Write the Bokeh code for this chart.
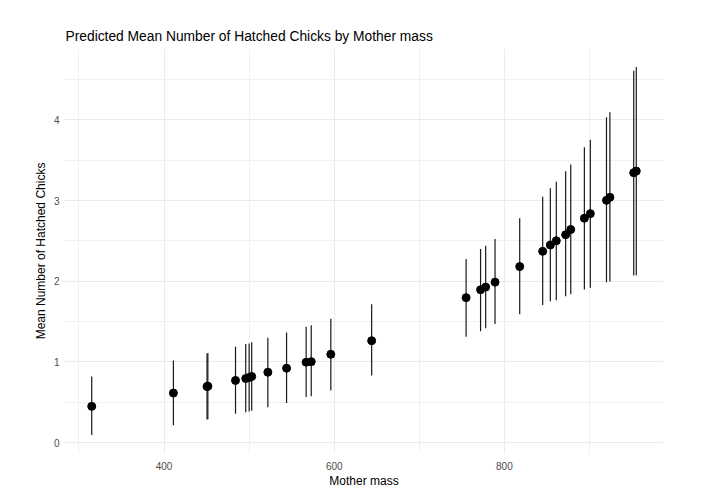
from bokeh.plotting import figure
from bokeh.models import ColumnDataSource, FixedTicker, Range1d
from bokeh.embed import file_html
from bokeh.resources import INLINE

# Data
mother_mass = [315, 411, 450.5, 451.5, 484, 496, 500, 503, 522, 544, 567, 573,
               596, 644, 755, 772, 778, 789, 818, 845, 854, 861, 872, 878,
               894, 901, 920, 924, 952, 955]
mean_chicks = [0.45, 0.615, 0.695, 0.70, 0.771, 0.795, 0.808, 0.82, 0.873, 0.923, 0.997, 1.004,
               1.095, 1.263, 1.797, 1.895, 1.928, 1.989, 2.182, 2.371, 2.449, 2.502, 2.576, 2.641,
               2.781, 2.838, 3.003, 3.04, 3.345, 3.365]
lower_ci = [0.094, 0.217, 0.287, 0.29, 0.357, 0.377, 0.385, 0.397, 0.438, 0.492, 0.566, 0.574,
            0.648, 0.832, 1.312, 1.382, 1.419, 1.472, 1.591, 1.706, 1.751, 1.764, 1.813, 1.838,
            1.899, 1.92, 1.989, 1.998, 2.07, 2.075]
upper_ci = [0.82, 1.017, 1.105, 1.11, 1.189, 1.222, 1.23, 1.243, 1.30, 1.366, 1.435, 1.456,
            1.534, 1.714, 2.277, 2.40, 2.44, 2.523, 2.781, 3.048, 3.154, 3.232, 3.364, 3.446,
            3.659, 3.754, 4.032, 4.094, 4.607, 4.656]

x_major = [400, 600, 800]
x_minor = [300, 500, 700, 900]
y_major = [0, 1, 2, 3, 4]
y_minor = [0.5, 1.5, 2.5, 3.5, 4.5]

src = ColumnDataSource(dict(x=mother_mass, y=mean_chicks, lo=lower_ci, hi=upper_ci))

xmin, xmax = min(mother_mass), max(mother_mass)
ymin, ymax = min(lower_ci), max(upper_ci)
xe = 0.05 * (xmax - xmin)
ye = 0.05 * (ymax - ymin)

FONT = "Liberation Sans"

p = figure(width=699, height=490, output_backend="svg", toolbar_location=None,
           x_range=Range1d(xmin - xe, xmax + xe), y_range=Range1d(ymin - ye, ymax + ye),
           title="Predicted Mean Number of Hatched Chicks by Mother mass",
           x_axis_label="Mother mass", y_axis_label="Mean Number of Hatched Chicks",
           min_border_left=64, min_border_right=36, min_border_top=48, min_border_bottom=36)

p.outline_line_color = None
p.background_fill_color = "white"
p.border_fill_color = "white"

p.title.text_font = FONT
p.title.text_font_size = "13.8px"
p.title.text_font_style = "normal"
p.title.text_color = "black"
p.title.standoff = 9
p.title.offset = 1

p.xaxis.ticker = FixedTicker(ticks=x_major, minor_ticks=x_minor)
p.yaxis.ticker = FixedTicker(ticks=y_major, minor_ticks=y_minor)

for ax in (p.xaxis, p.yaxis):
    ax.axis_line_color = None
    ax.major_tick_line_color = None
    ax.minor_tick_line_color = None
    ax.major_tick_in = 0
    ax.major_tick_out = 0
    ax.minor_tick_in = 0
    ax.minor_tick_out = 0
    ax.major_label_text_font = FONT
    ax.major_label_text_font_size = "10px"
    ax.major_label_text_color = "#4D4D4D"
    ax.axis_label_text_font = FONT
    ax.axis_label_text_font_size = "12px"
    ax.axis_label_text_font_style = "normal"
    ax.axis_label_text_color = "black"
    ax.major_label_standoff = 5
    ax.axis_label_standoff = 3

p.xaxis.major_label_standoff = 8
p.xaxis.axis_label_standoff = 1

for g in (p.xgrid, p.ygrid):
    g.grid_line_color = "#EBEBEB"
    g.grid_line_width = 1
    g.minor_grid_line_color = "#F0F0F0"
    g.minor_grid_line_width = 1

p.segment(x0="x", y0="lo", x1="x", y1="hi", source=src, line_color="#1a1a1a", line_width=1.2)
p.scatter(x="x", y="y", source=src, size=8, fill_color="black", line_color="black", line_width=1)

open("out.html", "w").write(file_html(p, INLINE))
